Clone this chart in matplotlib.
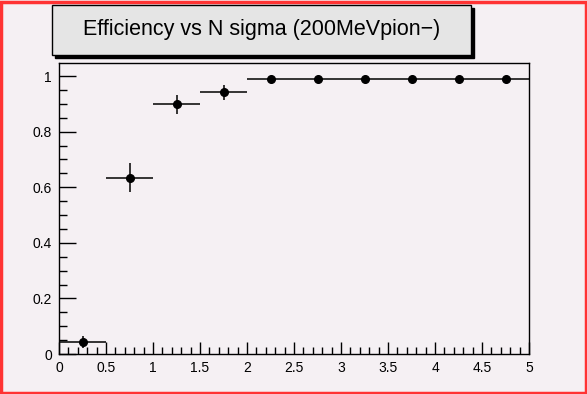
import numpy as np
import matplotlib.pyplot as plt
from matplotlib.patches import Rectangle
from matplotlib.ticker import MultipleLocator

# N sigma bins (centres) and efficiency
n_sigma = [0.25, 0.75, 1.25, 1.75, 2.25, 2.75, 3.25, 3.75, 4.25, 4.75]
bin_half = [0.25, 0.25, 0.25, 0.25, 0.25, 0.25, 0.25, 0.25, 0.25, 0.25]
efficiency = [0.042, 0.635, 0.898, 0.941, 0.988, 0.988, 0.988, 0.988, 0.988, 0.988]
eff_err = [0.022, 0.051, 0.034, 0.027, 0.006, 0.006, 0.006, 0.006, 0.006, 0.006]

title = "Efficiency vs N sigma (200MeVpion\u2212)"
bg = "#f5f0f3"

W, H = 587, 394
fig = plt.figure(figsize=(W / 100, H / 100), dpi=100, facecolor=bg)
plt.rcParams['font.family'] = ['Liberation Sans', 'DejaVu Sans']

# red canvas frame
fig.patches.append(Rectangle((1 / W, 1.5 / H), 1 - 2.5 / W, 1 - 3 / H, transform=fig.transFigure,
                             fill=False, edgecolor="#ff3333", linewidth=2.5))

ax = fig.add_axes([59 / W, 1 - 354 / H, (529 - 59) / W, (354 - 63) / H])
ax.set_facecolor(bg)
ax.errorbar(n_sigma, efficiency, xerr=bin_half, yerr=eff_err, fmt='o', color='black',
            markersize=5.5, elinewidth=1.1, capsize=0)

ax.set_xlim(0, 5)
ax.set_ylim(0, 1.047)
ax.xaxis.set_major_locator(MultipleLocator(0.5))
ax.xaxis.set_minor_locator(MultipleLocator(0.1))
ax.yaxis.set_major_locator(MultipleLocator(0.2))
ax.yaxis.set_minor_locator(MultipleLocator(0.05))
ax.xaxis.set_major_formatter(plt.FuncFormatter(lambda v, p: f"{v:g}"))
ax.yaxis.set_major_formatter(plt.FuncFormatter(lambda v, p: f"{v:g}"))
ax.tick_params(which='both', direction='in', top=False, right=False, width=1.0,
               labelsize=10)
ax.tick_params(axis='x', which='major', length=9, pad=5)
ax.tick_params(axis='x', which='minor', length=5)
ax.tick_params(axis='y', which='major', length=12, pad=5)
ax.tick_params(axis='y', which='minor', length=6)
for s in ax.spines.values():
    s.set_linewidth(1.0)

# title box with shadow
fig.patches.append(Rectangle((55 / W, 1 - 58 / H), (471 - 52) / W, 50 / H, transform=fig.transFigure,
                             facecolor="black", edgecolor="black"))
fig.patches.append(Rectangle((52 / W, 1 - 55 / H), (471 - 52) / W, 50 / H, transform=fig.transFigure,
                             facecolor="#e5e5e5", edgecolor="black", linewidth=1.0))
fig.text(261.5 / W, 1 - 29 / H, title, ha='center', va='center', fontsize=15.5)

fig.savefig("out.png", dpi=100, facecolor=bg)
